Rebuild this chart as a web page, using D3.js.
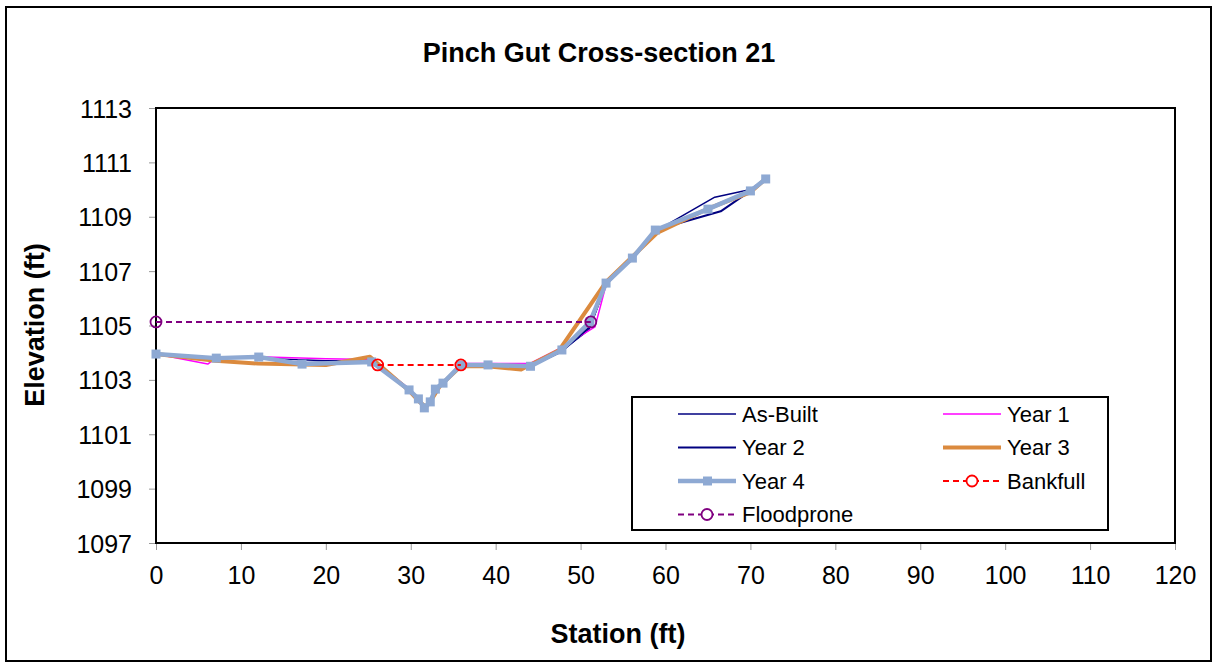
<!DOCTYPE html>
<html>
<head>
<meta charset="utf-8">
<script src="https://cdn.jsdelivr.net/npm/d3@7"></script>
<style>
  body { margin: 0; background: #fff; }
  text { font-family: Arial, 'Liberation Sans', sans-serif; }
</style>
</head>
<body>
<svg width="1218" height="667"></svg>
<script>
// station / elevation pairs
const asBuiltStation = [0, 7, 12, 20, 25.4, 29.6, 30.9, 31.6, 32.3, 33, 34, 36, 39, 44, 47.5, 51, 53, 56, 59, 65.8, 70, 71.8];
const asBuiltElev = [1103.95, 1103.8, 1103.8, 1103.7, 1103.7, 1102.7, 1102.3, 1102.0, 1102.2, 1102.6, 1102.9, 1103.55, 1103.55, 1103.5, 1104.0, 1104.85, 1106.5, 1107.5, 1108.5, 1109.72, 1110.0, 1110.4];

const year1Station = [0, 6.1, 7, 12, 20, 25.4, 29.5, 31, 31.6, 32.3, 33, 34, 36, 39, 44, 47.5, 51.7, 53, 56, 59, 65, 70, 71.8];
const year1Elev = [1103.95, 1103.58, 1103.8, 1103.85, 1103.78, 1103.75, 1102.75, 1102.3, 1102.0, 1102.2, 1102.6, 1102.9, 1103.6, 1103.6, 1103.6, 1104.15, 1104.95, 1106.5, 1107.5, 1108.5, 1109.3, 1110.0, 1110.4];

const year2Station = [0, 7, 12, 17, 25.4, 29.8, 30.9, 31.6, 32.3, 32.9, 33.8, 35.9, 39.1, 44.1, 47.8, 51.1, 53, 56.1, 58.8, 66.5, 70, 71.8];
const year2Elev = [1103.95, 1103.8, 1103.82, 1103.62, 1103.68, 1102.63, 1102.3, 1101.97, 1102.19, 1102.66, 1102.88, 1103.55, 1103.55, 1103.5, 1104.05, 1104.95, 1106.56, 1107.48, 1108.51, 1109.2, 1109.95, 1110.39];

const year3Station = [0, 7, 12, 20, 25.2, 29.8, 31, 31.8, 32.5, 33.5, 35.9, 39, 43, 47.5, 53, 56, 59, 65, 70, 71.8];
const year3Elev = [1103.95, 1103.7, 1103.6, 1103.55, 1103.85, 1102.6, 1102.2, 1102.0, 1102.3, 1102.8, 1103.5, 1103.5, 1103.38, 1104.1, 1106.6, 1107.5, 1108.4, 1109.3, 1109.9, 1110.4];

const year4Station = [0, 7.1, 12.1, 17.2, 25.4, 29.8, 30.9, 31.6, 32.3, 32.9, 33.8, 35.9, 39.1, 44.1, 47.8, 51.1, 53, 56.1, 58.8, 65, 70, 71.8];
const year4Elev = [1103.95, 1103.8, 1103.84, 1103.58, 1103.66, 1102.63, 1102.3, 1101.97, 1102.19, 1102.66, 1102.88, 1103.55, 1103.55, 1103.5, 1104.1, 1105.13, 1106.56, 1107.48, 1108.51, 1109.28, 1109.95, 1110.39];

const bankfullStation = [26.1, 35.9];
const bankfullElev = [1103.55, 1103.55];

const floodproneStation = [0, 51.2];
const floodproneElev = [1105.13, 1105.13];

const xTicks = [0, 10, 20, 30, 40, 50, 60, 70, 80, 90, 100, 110, 120];
const yTicks = [1097, 1099, 1101, 1103, 1105, 1107, 1109, 1111, 1113];

const svg = d3.select('svg');
const margin = {top: 108, right: 43, bottom: 124, left: 156};
const width = +svg.attr('width');
const height = +svg.attr('height');
const innerWidth = width - margin.left - margin.right;
const innerHeight = height - margin.top - margin.bottom;

// outer chart border
svg.append('rect')
  .attr('x', 6).attr('y', 7)
  .attr('width', 1205).attr('height', 654)
  .attr('fill', 'none').attr('stroke', '#000').attr('stroke-width', 2);

const xScale = d3.scaleLinear().domain([0, 120]).range([0, innerWidth]);
const yScale = d3.scaleLinear().domain([1097, 1113]).range([innerHeight, 0]);

const g = svg.append('g')
  .attr('transform', `translate(${margin.left}, ${margin.top})`);

const xAxisG = g.append('g')
  .attr('transform', `translate(0, ${innerHeight})`)
  .call(d3.axisBottom(xScale).tickValues(xTicks).tickSize(7).tickPadding(16));
const yAxisG = g.append('g')
  .call(d3.axisLeft(yScale).tickValues(yTicks).tickFormat(d3.format('d')).tickSize(7).tickPadding(17));

[xAxisG, yAxisG].forEach(ax => {
  ax.attr('font-size', 25).attr('font-family', "Arial, 'Liberation Sans', sans-serif");
  ax.select('.domain').remove();
  ax.selectAll('.tick line').attr('stroke', '#999');
  ax.selectAll('.tick text').attr('fill', '#000');
});
yAxisG.selectAll('.tick text').attr('dy', '0.36em');

g.append('rect')
  .attr('width', innerWidth).attr('height', innerHeight)
  .attr('fill', 'none').attr('stroke', '#000').attr('stroke-width', 2);

const zip = (xs, ys) => xs.map((x, i) => [x, ys[i]]);
const line = d3.line().x(d => xScale(d[0])).y(d => yScale(d[1]));

const series = [
  {name: 'As-Built', data: zip(asBuiltStation, asBuiltElev), color: '#000080', w: 1.5},
  {name: 'Year 1', data: zip(year1Station, year1Elev), color: '#FF00FF', w: 1.5},
  {name: 'Year 2', data: zip(year2Station, year2Elev), color: '#000080', w: 2},
  {name: 'Year 3', data: zip(year3Station, year3Elev), color: '#DB8A3E', w: 4},
  {name: 'Year 4', data: zip(year4Station, year4Elev), color: '#8EA9D3', w: 4.5, square: true},
  {name: 'Bankfull', data: zip(bankfullStation, bankfullElev), color: '#FF0000', w: 2, dash: '6,4', circle: true},
  {name: 'Floodprone', data: zip(floodproneStation, floodproneElev), color: '#800080', w: 2, dash: '6,4', circle: true}
];

series.forEach(s => {
  g.append('path')
    .datum(s.data)
    .attr('d', line)
    .attr('fill', 'none')
    .attr('stroke', s.color)
    .attr('stroke-width', s.w)
    .attr('stroke-linejoin', 'round')
    .attr('stroke-dasharray', s.dash || null);
  if (s.square) {
    g.selectAll(null).data(s.data).enter().append('rect')
      .attr('x', d => xScale(d[0]) - 4.5)
      .attr('y', d => yScale(d[1]) - 4.5)
      .attr('width', 9).attr('height', 9)
      .attr('fill', s.color);
  }
  if (s.circle) {
    g.selectAll(null).data(s.data).enter().append('circle')
      .attr('cx', d => xScale(d[0]))
      .attr('cy', d => yScale(d[1]))
      .attr('r', 5.5)
      .attr('fill', 'none')
      .attr('stroke', s.color)
      .attr('stroke-width', 1.8);
  }
});

// title and axis labels
svg.append('text')
  .attr('x', 599).attr('y', 62)
  .attr('text-anchor', 'middle')
  .style('font-size', '27px').style('font-weight', 'bold')
  .text('Pinch Gut Cross-section 21');

svg.append('text')
  .attr('x', 618).attr('y', 643)
  .attr('text-anchor', 'middle')
  .style('font-size', '27px').style('font-weight', 'bold')
  .text('Station (ft)');

svg.append('text')
  .attr('transform', 'translate(44, 325) rotate(-90)')
  .attr('text-anchor', 'middle')
  .style('font-size', '27px').style('font-weight', 'bold')
  .text('Elevation (ft)');

// legend
const legend = svg.append('g').attr('transform', 'translate(632, 397)');
legend.append('rect')
  .attr('width', 476).attr('height', 133)
  .attr('fill', '#fff').attr('stroke', '#000').attr('stroke-width', 2);

series.forEach((s, i) => {
  const col = i % 2, row = Math.floor(i / 2);
  const lx = 46 + col * 265, ly = 17 + row * 33.5;
  const item = legend.append('g').attr('transform', `translate(${lx}, ${ly})`);
  item.append('line')
    .attr('x1', 0).attr('x2', 58)
    .attr('stroke', s.color)
    .attr('stroke-width', s.w)
    .attr('stroke-dasharray', s.dash || null);
  if (s.square) {
    item.append('rect').attr('x', 25).attr('y', -4.5).attr('width', 9).attr('height', 9).attr('fill', s.color);
  }
  if (s.circle) {
    item.append('circle').attr('cx', 29).attr('r', 5.5)
      .attr('fill', '#fff').attr('stroke', s.color).attr('stroke-width', 1.8);
  }
  item.append('text')
    .attr('x', 64).attr('dy', '0.36em')
    .style('font-size', '22px')
    .text(s.name);
});
</script>
</body>
</html>
